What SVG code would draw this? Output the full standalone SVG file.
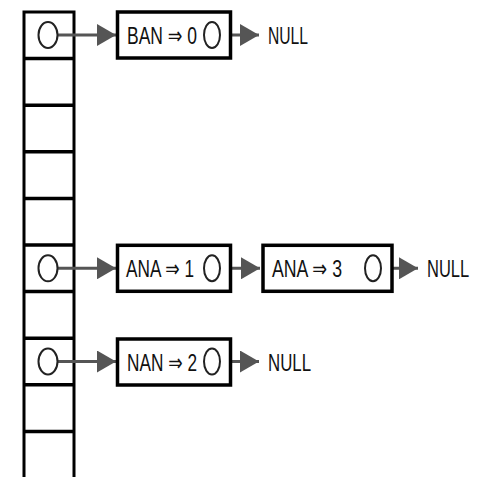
<svg xmlns="http://www.w3.org/2000/svg" width="478" height="477" viewBox="0 0 478 477">
  <style>
    .cell { fill: #fff; stroke: #000; stroke-width: 3; }
    .box { fill: #fff; stroke: #000; stroke-width: 3.5; }
    .ptr { fill: #fff; stroke: #222; stroke-width: 2; }
    .conn { stroke: #555; stroke-width: 3; fill: none; marker-end: url(#ah); }
    .lbl { font-family: "Liberation Sans Narrow", "Liberation Sans", "DejaVu Sans", sans-serif; font-size: 24px; fill: #111; }
    .lbl2 { font-family: "Liberation Sans", "DejaVu Sans", sans-serif; font-size: 16.5px; fill: #111; }
  </style>
  <defs>
    <marker id="ah" markerUnits="userSpaceOnUse" markerWidth="20" markerHeight="22" refX="19" refY="11" orient="auto">
      <path d="M0,0 L19,11 L0,22 z" fill="#555"/>
    </marker>
  </defs>
  <rect width="478" height="477" fill="#fff"/>

  <g id="array">
    <rect class="cell" x="24" y="12" width="50" height="470"/>
    <line x1="24" y1="58.6" x2="74" y2="58.6" stroke="#000" stroke-width="3.5"/>
    <line x1="24" y1="105.2" x2="74" y2="105.2" stroke="#000" stroke-width="3.5"/>
    <line x1="24" y1="151.8" x2="74" y2="151.8" stroke="#000" stroke-width="3.5"/>
    <line x1="24" y1="198.4" x2="74" y2="198.4" stroke="#000" stroke-width="3.5"/>
    <line x1="24" y1="245" x2="74" y2="245" stroke="#000" stroke-width="3.5"/>
    <line x1="24" y1="291.6" x2="74" y2="291.6" stroke="#000" stroke-width="3.5"/>
    <line x1="24" y1="338.2" x2="74" y2="338.2" stroke="#000" stroke-width="3.5"/>
    <line x1="24" y1="384.8" x2="74" y2="384.8" stroke="#000" stroke-width="3.5"/>
    <line x1="24" y1="431.4" x2="74" y2="431.4" stroke="#000" stroke-width="3.5"/>
  </g>

  <g id="connectors">
    <line class="conn" x1="57" y1="35" x2="116" y2="35"/>
    <line class="conn" x1="220" y1="35" x2="259" y2="35"/>
    <line class="conn" x1="57" y1="268.3" x2="116" y2="268.3"/>
    <line class="conn" x1="220" y1="268.3" x2="260" y2="268.3"/>
    <line class="conn" x1="381" y1="268.3" x2="418" y2="268.3"/>
    <line class="conn" x1="57" y1="361.5" x2="116" y2="361.5"/>
    <line class="conn" x1="220" y1="361.5" x2="259" y2="361.5"/>
  </g>

  <g id="slot0">
    <ellipse class="ptr" cx="48" cy="35" rx="9.5" ry="13"/>
  </g>
  <g id="slot5">
    <ellipse class="ptr" cx="48" cy="268.3" rx="9.5" ry="13"/>
  </g>
  <g id="slot7">
    <ellipse class="ptr" cx="48" cy="361.5" rx="9.5" ry="13"/>
  </g>

  <g id="node-ban0">
    <rect class="box" x="117.5" y="12" width="113" height="46"/>
    <text class="lbl" x="127" y="44" textLength="70" lengthAdjust="spacingAndGlyphs">BAN ⇒ 0</text>
    <ellipse class="ptr" cx="212" cy="35" rx="8" ry="13"/>
  </g>
  <g id="null0">
    <text class="lbl" x="268" y="44" textLength="40" lengthAdjust="spacingAndGlyphs">NULL</text>
  </g>

  <g id="node-ana1">
    <rect class="box" x="117.5" y="245.3" width="113" height="46"/>
    <text class="lbl" x="126" y="277.3" textLength="68" lengthAdjust="spacingAndGlyphs">ANA ⇒ 1</text>
    <ellipse class="ptr" cx="212" cy="268.3" rx="8" ry="13"/>
  </g>
  <g id="node-ana3">
    <rect class="box" x="263" y="245.3" width="129" height="46"/>
    <text class="lbl" x="272" y="277.3" textLength="70" lengthAdjust="spacingAndGlyphs">ANA ⇒ 3</text>
    <ellipse class="ptr" cx="373" cy="268.3" rx="8" ry="13"/>
  </g>
  <g id="null1">
    <text class="lbl2" transform="translate(427 277.3) scale(1 1.45)" x="0" y="0">NULL</text>
  </g>

  <g id="node-nan2">
    <rect class="box" x="117.5" y="339" width="113" height="46"/>
    <text class="lbl" x="127" y="370.5" textLength="70" lengthAdjust="spacingAndGlyphs">NAN ⇒ 2</text>
    <ellipse class="ptr" cx="212" cy="361.5" rx="8" ry="13"/>
  </g>
  <g id="null2">
    <text class="lbl" x="268" y="370.5" textLength="43" lengthAdjust="spacingAndGlyphs">NULL</text>
  </g>
</svg>
